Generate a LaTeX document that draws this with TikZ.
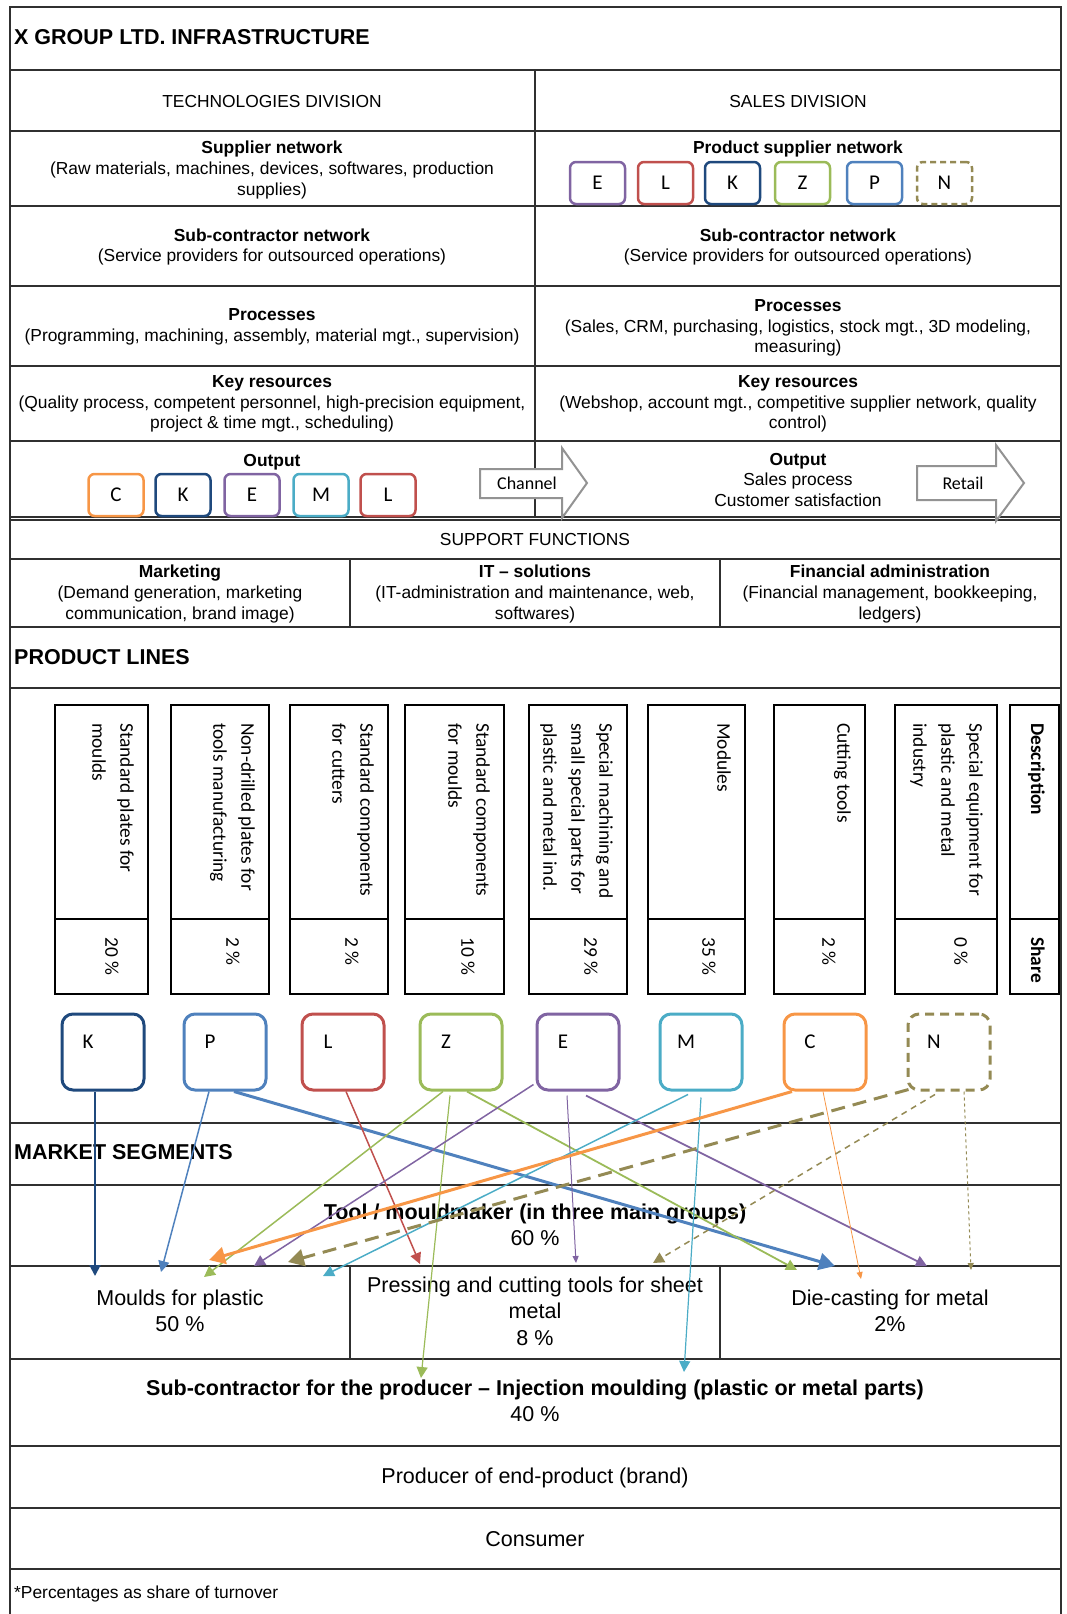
\documentclass[tikz,border=0pt]{standalone}
\usepackage{fontspec}
\setmainfont{Liberation Sans}
\newfontfamily\calfont{Carlito}
\usepackage{tikz}
\usetikzlibrary{arrows.meta,calc}
\definecolor{xgnavy}{HTML}{1F497D}
\definecolor{xgblue}{HTML}{4F81BD}
\definecolor{xgred}{HTML}{C0504D}
\definecolor{xggreen}{HTML}{9BBB59}
\definecolor{xgpurple}{HTML}{8064A2}
\definecolor{xgaqua}{HTML}{4BACC6}
\definecolor{xgorange}{HTML}{F79646}
\definecolor{xgolive}{HTML}{948A54}
\definecolor{xgline}{HTML}{303030}
\newcommand{\fsm}{\fontsize{17.4}{20.8}\selectfont}
\newcommand{\fbg}{\fontsize{21.5}{26.5}\selectfont}
\newcommand{\fcl}{\calfont\fontsize{19.4}{28}\selectfont}
\tikzset{
  rule/.style={draw=xgline,line width=1.2pt},
  cell/.style={align=center,font=\fsm,inner sep=0pt,yshift=-2pt},
  bigcell/.style={align=center,font=\fbg,inner sep=0pt},
  sechead/.style={anchor=west,font=\fbg\bfseries,inner sep=0pt},
  sbox/.style={draw=#1,line width=2.5pt,rounded corners=6pt,minimum width=55pt,minimum height=42pt,inner sep=0pt,font=\calfont\fontsize{21}{21}\selectfont},
  lbox/.style={draw=#1,line width=3pt,rounded corners=11pt,minimum width=82pt,minimum height=76pt,inner sep=0pt},
  ltxt/.style={inner sep=0pt,font=\calfont\fontsize{21}{21}\selectfont},
  pbox/.style={draw=black,line width=1.4pt},
  ptxt/.style={rotate=-90,anchor=north west,align=left,font=\fcl,inner sep=0pt},
  pcnt/.style={rotate=-90,anchor=west,font=\fcl,inner sep=0pt},
  bigarr/.style={draw=gray!85,line width=2pt,fill=white},
  ar/.style={-{Triangle[length=11pt,width=11pt]},line width=1.5pt},
  arbig/.style={-{Triangle[length=16pt,width=17pt]},line width=3pt},
  arthin/.style={-{Triangle[length=7pt,width=6pt]},line width=0.8pt},
}

\begin{document}
\begin{tikzpicture}[x=1pt,y=-1pt]
  \useasboundingbox (0,0) rectangle (1067,1614);
  % frame and rows
  \draw[rule] (10,1614) -- (10,7) -- (1061,7) -- (1061,1614);
  \foreach \yy in {70,131,206,286,366,441,517,520,559,627,688,1123,1185,1266,1359,1446,1508,1569}
    \draw[rule] (10,\yy) -- (1061,\yy);
  \draw[rule] (535,70) -- (535,517);
  \draw[rule] (350,559) -- (350,627) (720,559) -- (720,627);
  \draw[rule] (350,1266) -- (350,1359) (720,1266) -- (720,1359);

  % infrastructure
  \node[sechead] (title) at (14,37) {X GROUP LTD. INFRASTRUCTURE};
  \node[cell] (tech) at (272,100) {TECHNOLOGIES DIVISION};
  \node[cell] (sales) at (798,100) {SALES DIVISION};
  \node[cell] (supl) at (272,168) {\textbf{Supplier network}\\(Raw materials, machines, devices, softwares, production\\supplies)};
  \node[cell] (psup) at (798,147) {\textbf{Product supplier network}};
  \foreach \nm/\xx/\cl in {E/570/xgpurple,L/638/xgred,K/705/xgnavy,Z/775/xggreen,P/847/xgblue}
    \node[sbox=\cl] (s\nm) at (\xx+27.5,183) {\nm};
  \node[sbox=xgolive,dash pattern=on 6pt off 4pt] (sN) at (944.5,183) {N};
  \node[cell] (subl) at (272,245) {\textbf{Sub-contractor network}\\(Service providers for outsourced operations)};
  \node[cell] (subr) at (798,245) {\textbf{Sub-contractor network}\\(Service providers for outsourced operations)};
  \node[cell] (procl) at (272,325) {\textbf{Processes}\\(Programming, machining, assembly, material mgt., supervision)};
  \node[cell] (procr) at (798,326) {\textbf{Processes}\\(Sales, CRM, purchasing, logistics, stock mgt., 3D modeling,\\measuring)};
  \node[cell] (keyl) at (272,402) {\textbf{Key resources}\\(Quality process, competent personnel, high-precision equipment,\\project \& time mgt., scheduling)};
  \node[cell] (keyr) at (798,402) {\textbf{Key resources}\\(Webshop, account mgt., competitive supplier network, quality\\control)};

  % output
  \node[cell] (outl) at (272,460) {\textbf{Output}};
  \foreach \nm/\xx/\cl in {C/88/xgorange,K/155/xgnavy,E/224/xgpurple,M/293/xgaqua,L/360/xgred}
    \node[sbox=\cl] (o\nm) at (\xx+28,495) {\nm};
  \draw[bigarr] (480,469) -- (562,469) -- (562,448) -- (587,483) -- (562,518) -- (562,498) -- (480,498) -- cycle;
  \node[inner sep=0pt,font=\calfont\fontsize{18}{18}\selectfont] (chan) at (527,483) {Channel};
  \node[cell] (outr) at (798,478) {\textbf{Output}\\Sales process\\Customer satisfaction};
  \draw[bigarr] (917,466) -- (996,466) -- (996,445) -- (1024,483) -- (996,521) -- (996,500) -- (917,500) -- cycle;
  \node[inner sep=0pt,font=\calfont\fontsize{18}{18}\selectfont] (retail) at (963,483) {Retail};

  % support functions
  \node[cell] (supp) at (535,538) {SUPPORT FUNCTIONS};
  \node[cell] (mkt) at (180,592) {\textbf{Marketing}\\(Demand generation, marketing\\communication, brand image)};
  \node[cell] (its) at (535,592) {\textbf{IT – solutions}\\(IT-administration and maintenance, web,\\softwares)};
  \node[cell] (fin) at (890,592) {\textbf{Financial administration}\\(Financial management, bookkeeping,\\ledgers)};

  % product lines
  \node[sechead] (plines) at (14,657) {PRODUCT LINES};
  \foreach \xl/\xr/\txt/\pc [count=\i] in {
      55/148/{Standard plates for\\moulds}/{20 \%},
      171/269/{Non-drilled plates for\\tools manufacturing}/{2 \%},
      290/388/{Standard components\\for cutters}/{2 \%},
      405/504/{Standard components\\for moulds}/{10 \%},
      529/627/{Special machining and\\small special parts for\\plastic and metal ind.}/{29 \%},
      648/745/{Modules}/{35 \%},
      774/865/{Cutting tools}/{2 \%},
      895/997/{Special equipment for\\plastic and metal\\industry}/{0 \%}} {
    \draw[pbox] (\xl,705) rectangle (\xr,994);
    \draw[pbox] (\xl,919) -- (\xr,919);
    \node[ptxt] (pl\i) at (\xr-14,723) {\txt};
    \node[pcnt] (ps\i) at (\xr-36,937) {\pc};
  }
  \draw[pbox] (1010,705) rectangle (1059,994);
  \draw[pbox] (1010,919) -- (1059,919);
  \node[ptxt] (pdesc) at (1045,723) {\bfseries Description};
  \node[ptxt] (pshare) at (1045,937) {\bfseries Share};

  % product letters
  \foreach \nm/\xx/\cl in {K/62/xgnavy,P/184/xgblue,L/302/xgred,Z/420/xggreen,E/537/xgpurple,M/660/xgaqua,C/784/xgorange} {
    \node[lbox=\cl] (b\nm) at (\xx+41,1052) {};
    \node[ltxt] (t\nm) at (\xx+26,1042) {\nm};
  }
  \node[lbox=xgolive,dash pattern=on 9pt off 6pt] (bN) at (949,1052) {};
  \node[ltxt] (tN) at (934,1042) {N};

  % market segments
  \node[sechead] (mseg) at (14,1152) {MARKET SEGMENTS};
  \node[bigcell] (tool) at (535,1225) {\textbf{Tool / mouldmaker (in three main groups)}\\60 \%};
  \node[bigcell] (mould) at (180,1311) {Moulds for plastic\\50 \%};
  \node[bigcell] (press) at (535,1311) {Pressing and cutting tools for sheet\\metal\\8 \%};
  \node[bigcell] (diec) at (890,1311) {Die-casting for metal\\2\%};
  \node[bigcell] (injm) at (535,1401) {\textbf{Sub-contractor for the producer – Injection moulding (plastic or metal parts)}\\40 \%};
  \node[bigcell] (prod) at (535,1478) {Producer of end-product (brand)};
  \node[bigcell] (cons) at (535,1539) {Consumer};
  \node[cell,anchor=west] (note) at (14,1592) {*Percentages as share of turnover};

  % arrow ends
  \coordinate (eK) at (95,1276);
  \coordinate (eP1) at (161,1272);
  \coordinate (eP2) at (835,1266);
  \coordinate (eL) at (420,1264);
  \coordinate (eZ1) at (204,1277);
  \coordinate (eZ2) at (421,1378);
  \coordinate (eZ3) at (797,1270);
  \coordinate (eE1) at (254,1266);
  \coordinate (eE2) at (576,1263);
  \coordinate (eE3) at (927,1266);
  \coordinate (eM1) at (323,1276);
  \coordinate (eM2) at (684,1372);
  \coordinate (eC1) at (209,1260);
  \coordinate (eC2) at (861,1279);
  \coordinate (eN1) at (288,1262);
  \coordinate (eN2) at (653,1263);
  \coordinate (eN3) at (971,1270);

  % product to segment
  \draw[ar,xgnavy,line width=2pt] ([xshift=-8pt]bK.south) -- (eK);
  \draw[ar,xgblue] ([xshift=-16pt]bP.south) -- (eP1);
  \draw[arbig,xgblue] ([xshift=9pt]bP.south) -- (eP2);
  \draw[ar,xgred] ([xshift=3pt]bL.south) -- (eL);
  \draw[ar,xggreen] ([xshift=-18pt]bZ.south) -- (eZ1);
  \draw[ar,xggreen,line width=1.2pt] ([xshift=-11pt,yshift=-4pt]bZ.south) -- (eZ2);
  \draw[ar,xggreen,line width=1.8pt] ([xshift=6pt]bZ.south) -- (eZ3);
  \draw[ar,xgpurple] ([xshift=-2pt,yshift=7pt]bE.south west) -- (eE1);
  \draw[arthin,xgpurple,line width=1pt] ([xshift=-11pt,yshift=-4pt]bE.south) -- (eE2);
  \draw[ar,xgpurple,line width=1.8pt] ([xshift=8pt,yshift=-4pt]bE.south) -- (eE3);
  \draw[ar,xgaqua] ([xshift=-13pt,yshift=-3pt]bM.south) -- (eM1);
  \draw[ar,xgaqua,line width=1.2pt] ([yshift=-6pt]bM.south) -- (eM2);
  \draw[arbig,xgorange] ([xshift=-33pt]bC.south) -- (eC1);
  \draw[arthin,xgorange] ([xshift=-2pt]bC.south) -- (eC2);
  \draw[arbig,xgolive,dash pattern=on 14pt off 8pt] ([xshift=2pt,yshift=2pt]bN.south west) -- (eN1);
  \draw[ar,xgolive,dash pattern=on 6pt off 5pt] ([xshift=-14pt,yshift=-3pt]bN.south) -- (eN2);
  \draw[arthin,xgolive,line width=1pt,dash pattern=on 3pt off 3pt] ([xshift=15pt]bN.south) -- (eN3);
\end{tikzpicture}
\end{document}
